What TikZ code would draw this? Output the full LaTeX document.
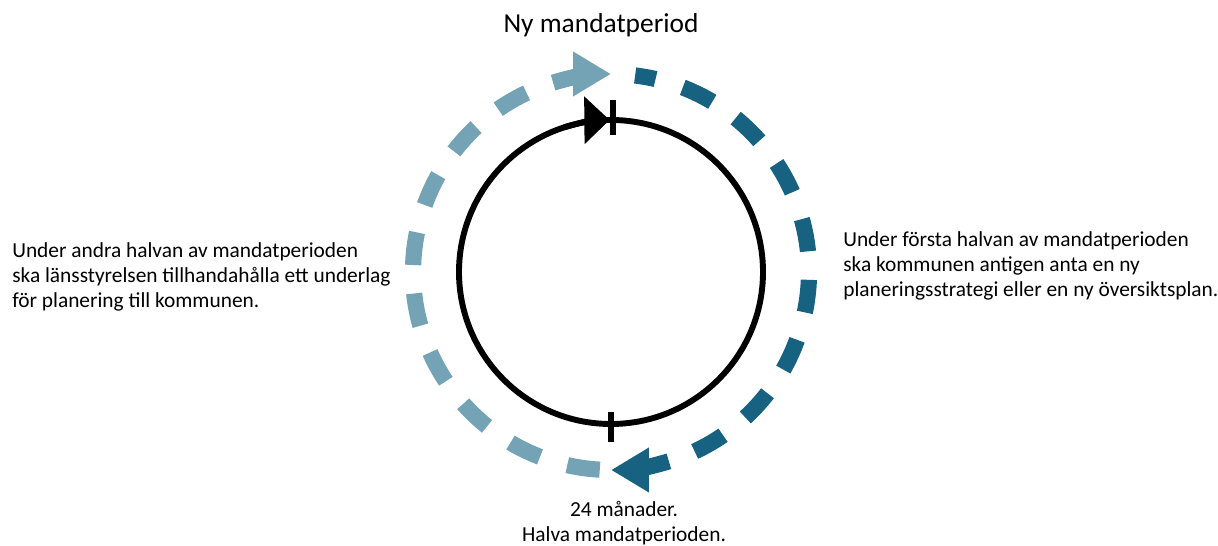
\documentclass[tikz,border=0pt]{standalone}
\usepackage{fontspec}
\setmainfont{Carlito}
\usetikzlibrary{arrows.meta}
\definecolor{lightcyc}{HTML}{73A3B5}
\definecolor{darkcyc}{HTML}{166280}

\begin{document}
\begin{tikzpicture}[x=0.025cm,y=0.025cm,
    cycdash/.style={line width=11.5pt, dash pattern=on 0.8208cm off 0.7128cm},
    cycarrow/.style={line width=11.5pt, -{Triangle[length=27pt,width=30pt]}},
    ring/.style={line width=4.2pt},
    bodytext/.style={font=\fontsize{15.2}{17.8}\selectfont, inner sep=0pt, align=left}]

    \useasboundingbox (0,0) rectangle (1218,546);
    \coordinate (c) at (611,274);

    % Outer dashed ring, second half (light) and first half (dark)
    \draw[cycdash, lightcyc] ([shift={(266.75:198)}]c) arc[start angle=266.75, end angle=115.25, radius=198];
    \draw[cycarrow, lightcyc] ([shift={(107:198)}]c) arc[start angle=107, end angle=90, radius=198];
    \draw[cycdash, darkcyc, dash phase=0.3024cm] ([shift={(83:198)}]c) arc[start angle=83, end angle=-65, radius=198];
    \draw[cycarrow, darkcyc] ([shift={(-73:198)}]c) arc[start angle=-73, end angle=-90, radius=198];

    % Inner circle with arrow and marks
    \draw[ring] (c) circle (152);
    \draw[ring, -{Triangle[length=18pt,width=33pt]}] ([shift={(108:152)}]c) arc[start angle=108, end angle=90.5, radius=152];
    \draw[ring] (613,411) -- (613,446);
    \draw[ring] (611,104) -- (611,134);

    % Texts
    \node[font=\fontsize{19.5}{23}\selectfont] (title) at (601,521) {Ny mandatperiod};
    \node[bodytext, anchor=west] (second) at (12,269) {Under andra halvan av mandatperioden\\ska länsstyrelsen tillhandahålla ett underlag\\för planering till kommunen.};
    \node[bodytext, anchor=west] (first) at (843,280) {Under första halvan av mandatperioden\\ska kommunen antigen anta en ny\\planeringsstrategi eller en ny översiktsplan.};
    \node[bodytext, align=center] (half) at (624,23) {24 månader.\\Halva mandatperioden.};
\end{tikzpicture}
\end{document}
